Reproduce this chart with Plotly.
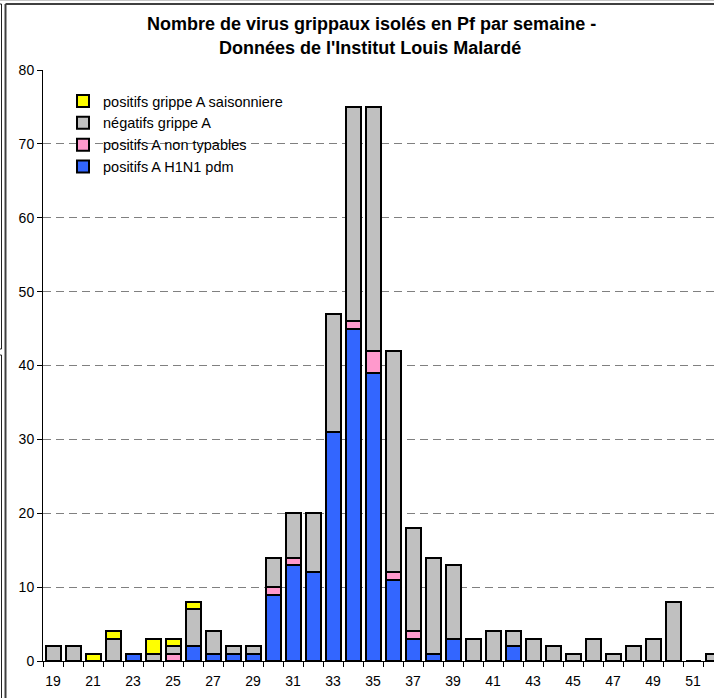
import plotly.graph_objects as go

weeks = list(range(19, 53))
h1n1 = [0, 0, 0, 0, 1, 0, 0, 2, 1, 1, 1, 9, 13, 12, 31, 45, 39, 11, 3, 1, 3, 0, 0, 2, 0, 0, 0, 0, 0, 0, 0, 0, 0, 0]
non_typables = [0, 0, 0, 0, 0, 0, 1, 0, 0, 0, 0, 1, 1, 0, 0, 1, 3, 1, 1, 0, 0, 0, 0, 0, 0, 0, 0, 0, 0, 0, 0, 0, 0, 0]
negatifs = [2, 2, 0, 3, 0, 1, 1, 5, 3, 1, 1, 4, 6, 8, 16, 29, 33, 30, 14, 13, 10, 3, 4, 2, 3, 2, 1, 3, 1, 2, 3, 8, 0, 1]
saisonniere = [0, 0, 1, 1, 0, 2, 1, 1, 0, 0, 0, 0, 0, 0, 0, 0, 0, 0, 0, 0, 0, 0, 0, 0, 0, 0, 0, 0, 0, 0, 0, 0, 0, 0]

# (name, values, colour, legend rank)
series = [
    ("positifs A H1N1 pdm", h1n1, "#3366FF", 4),
    ("positifs A non typables", non_typables, "#FF99CC", 3),
    ("négatifs grippe A", negatifs, "#C0C0C0", 2),
    ("positifs grippe A saisonniere", saisonniere, "#FFFF00", 1),
]

FONT = "Arial, Liberation Sans, sans-serif"
W, H = 714, 698
L, R, T, B = 43, 0, 70, 37
PW, PH = W - L - R, H - T - B


def px(x):
    return (x - L) / PW


def py(y):
    return (H - B - y) / PH


fig = go.Figure()
for i, (name, vals, col, rank) in enumerate(series):
    fig.add_trace(go.Bar(
        x=weeks, y=vals, name=name, legendrank=rank,
        marker=dict(color=col, line=dict(color="black", width=2)),
    ))

shapes = []
def line(x0, y0, x1, y1, color, width):
    shapes.append(dict(type="line", xref="paper", yref="paper",
                       x0=px(x0), y0=py(y0), x1=px(x1), y1=py(y1),
                       line=dict(color=color, width=width), layer="above"))

line(0, 0.5, W, 0.5, "#C8C8C8", 1)
line(5.5, 4, W, 4, "#404040", 2)
line(5.5, 4, 5.5, H, "#404040", 2)
line(1.5, 4, 1.5, 349, "#202020", 1)
line(0, 4, 1.5, 4, "#202020", 1)
line(0, 349, 1.5, 349, "#202020", 1)
line(1.5, 355, 1.5, H, "#202020", 1)
line(0, 355, 1.5, 355, "#202020", 1)

fig.update_layout(
    width=W, height=H,
    margin=dict(l=L, r=R, t=T, b=B, pad=0),
    barmode="stack", bargap=0.25,
    plot_bgcolor="white", paper_bgcolor="white",
    font=dict(family=FONT, size=14, color="black"),
    showlegend=True,
    legend=dict(x=px(63), y=py(85), xanchor="left", yanchor="top",
                traceorder="normal",
                bgcolor="rgba(0,0,0,0)", font=dict(size=14.5, family=FONT)),
    xaxis=dict(range=[18.5, 52.05], tickmode="linear", tick0=19, dtick=2,
               showgrid=False, zeroline=False, showline=True, linecolor="black", linewidth=1,
               ticks="outside", ticklen=7, tickcolor="rgba(0,0,0,0)",
               tickfont=dict(size=14, family=FONT),
               minor=dict(tickmode="linear", tick0=18.5, dtick=1, ticks="outside",
                          ticklen=5, tickcolor="black", showgrid=False)),
    yaxis=dict(range=[0, 80], tickmode="linear", tick0=0, dtick=10,
               showgrid=True, gridcolor="#808080", gridwidth=1, griddash="8px,5px",
               zeroline=False, showline=True, linecolor="black", linewidth=1,
               ticks="outside", ticklen=5, tickcolor="black",
               tickfont=dict(size=14, family=FONT)),
    shapes=shapes,
    annotations=[
        dict(text="<b>Nombre de virus grippaux isolés en Pf par semaine -</b>",
             xref="paper", yref="paper", x=px(371), y=py(24), xanchor="center", yanchor="middle",
             showarrow=False, font=dict(size=18, family=FONT, color="black")),
        dict(text="<b>Données de l'Institut Louis Malardé</b>",
             xref="paper", yref="paper", x=px(370), y=py(48), xanchor="center", yanchor="middle",
             showarrow=False, font=dict(size=18, family=FONT, color="black")),
    ],
)

fig.write_html("out.html", config={"displayModeBar": False},
               post_script="document.body.style.margin='0';document.body.style.overflow='hidden';")
